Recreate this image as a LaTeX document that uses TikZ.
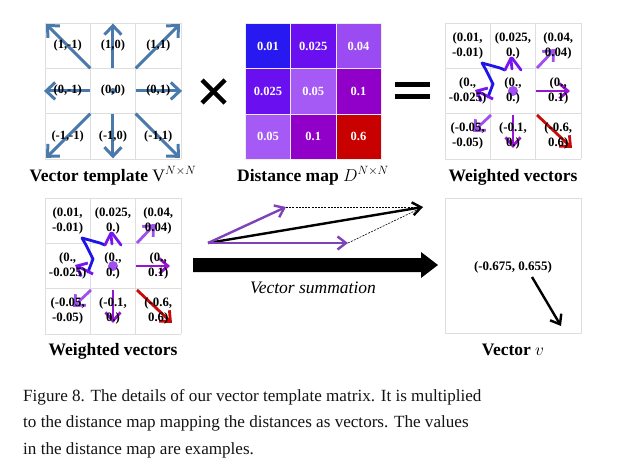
\documentclass[tikz,border=0pt]{standalone}
\usepackage{fontspec}
\setmainfont{Liberation Serif}
\usetikzlibrary{arrows.meta}
\definecolor{tblue}{RGB}{74,122,171}
\definecolor{dcA}{RGB}{40,25,240}
\definecolor{dcB}{RGB}{105,15,240}
\definecolor{dcC}{RGB}{155,75,242}
\definecolor{dcD}{RGB}{165,90,245}
\definecolor{dcE}{RGB}{145,0,200}
\definecolor{dcF}{RGB}{200,0,0}
\definecolor{wblue}{RGB}{30,20,230}
\definecolor{wviolet}{RGB}{120,20,240}
\definecolor{wlight}{RGB}{160,80,240}
\definecolor{wpurple}{RGB}{150,20,210}
\definecolor{wred}{RGB}{200,10,10}
\definecolor{sumv}{RGB}{125,65,185}
\definecolor{gridc}{RGB}{222,222,222}
\definecolor{captc}{RGB}{20,20,20}
\tikzset{
  gridline/.style={draw=gridc, line width=0.7pt},
  tlab/.style={font=\bfseries\fontsize{12.5}{14}\selectfont, inner sep=0pt},
  wlab/.style={font=\bfseries\fontsize{12.8}{15}\selectfont, inner sep=0pt, align=center},
  dlab/.style={font=\bfseries\fontsize{12.5}{14}\selectfont, text=white},
  dcell/.style={draw=white!85!gray, line width=0.6pt, minimum size=45.3pt, anchor=north west, inner sep=0pt},
  title/.style={font=\bfseries\fontsize{17.5}{20}\selectfont, anchor=base, inner sep=0pt},
  tarrow/.style={draw=tblue, line width=3pt, -{Straight Barb[length=9pt,width=17pt]}},
  warrow/.style={line width=2.8pt, -{Straight Barb[length=8.5pt,width=15pt]}},
  wline/.style={line width=2.8pt, line join=round, line cap=round},
  sarrow/.style={line width=2.4pt, -{Straight Barb[length=8.5pt,width=13pt]}},
  guide/.style={draw=black, line width=0.6pt, dash pattern=on 2pt off 1.2pt},
  capt/.style={font=\fontsize{17.1}{20}\selectfont, anchor=base west, inner sep=0pt, text=captc},
}
\newcommand\wgrid[1]{%
  \foreach \i in {0,1,2,3} {
    \draw[gridline] (\i*45.3,0) -- (\i*45.3,135.9);
    \draw[gridline] (0,\i*45.3) -- (135.9,\i*45.3);
  }
  \draw[wline, draw=wblue] (43,74) -- (48,61) -- (41,47) -- (37,40) -- (55,45) -- (60,47);
  \draw[wline, draw=wviolet] (60,47) -- (66,35);
  \draw[wline, draw=wviolet] (76,47) -- (67,35);
  \draw[wline, draw=wviolet] (67,46) -- (66,37);
  \draw[warrow, draw=wlight] (92,45) -- (110,26);
  \draw[warrow, draw=wviolet] (48,76) -- (30,67);
  \draw[warrow, draw=wpurple] (91,68) -- (125,68);
  \fill[wlight] (68,68) circle (5pt);
  \draw[warrow, draw=wlight] (46,92) -- (28,109);
  \draw[warrow, draw=wpurple] (68,92) -- (68,125);
  \draw[warrow, draw=wred] (92,92) -- (127,125);
  \node[wlab] (#1a) at (22.65,22.65) {(0.01,\\-0.01)};
  \node[wlab] (#1b) at (67.95,22.65) {(0.025,\\0.)};
  \node[wlab] (#1c) at (113.25,22.65) {(0.04,\\0.04)};
  \node[wlab] (#1d) at (22.65,67.95) {(0.,\\-0.025)};
  \node[wlab] (#1e) at (67.95,67.95) {(0.,\\0.)};
  \node[wlab] (#1f) at (113.25,67.95) {(0.,\\0.1)};
  \node[wlab] (#1g) at (22.65,113.25) {(-0.05,\\-0.05)};
  \node[wlab] (#1h) at (67.95,113.25) {(-0.1,\\0.)};
  \node[wlab] (#1i) at (113.25,113.25) {(-0.6,\\0.6)};
}
\begin{document}
\begin{tikzpicture}[x=1pt,y=-1pt]
\useasboundingbox (0,0) rectangle (629,468);
\fill[white] (0,0) rectangle (629,468);

% ---------- Vector template ----------
\begin{scope}[shift={(45,23)}]
  \foreach \i in {0,1,2,3} {
    \draw[gridline] (\i*45.3,0) -- (\i*45.3,135.9);
    \draw[gridline] (0,\i*45.3) -- (135.9,\i*45.3);
  }
  \draw[tarrow] (45.3,45.3) -- (1,1);
  \draw[tarrow] (67.95,45.3) -- (67.95,0.5);
  \draw[tarrow] (90.6,45.3) -- (135,1);
  \draw[tarrow] (45.3,67.95) -- (-1,67.95);
  \draw[tarrow] (90.6,67.95) -- (137,67.95);
  \draw[tarrow] (45.3,90.6) -- (1,134.9);
  \draw[tarrow] (67.95,90.6) -- (67.95,135.4);
  \draw[tarrow] (90.6,90.6) -- (135,134.9);
  \fill[tblue] (67.95,67.95) circle (3pt);
  \node[tlab] (t11) at (22.65,22.65) {(1,-1)};
  \node[tlab] (t12) at (67.95,22.65) {(1,0)};
  \node[tlab] (t13) at (113.25,22.65) {(1,1)};
  \node[tlab] (t21) at (22.65,67.95) {(0,-1)};
  \node[tlab] (t22) at (67.95,67.95) {(0,0)};
  \node[tlab] (t23) at (113.25,67.95) {(0,1)};
  \node[tlab] (t31) at (22.65,113.25) {(-1,-1)};
  \node[tlab] (t32) at (67.95,113.25) {(-1,0)};
  \node[tlab] (t33) at (113.25,113.25) {(-1,1)};
\end{scope}
\node[title] (ttitle) at (113,181) {Vector template $\mathrm{V}^{N\times N}$};

% times sign
\draw[line width=4.5pt] (202,80) -- (225,103);
\draw[line width=4.5pt] (225,80) -- (202,103);

% ---------- Distance map ----------
\node[dcell, fill=dcA] (d11) at (245,23) {};
\node[dcell, fill=dcB] (d12) at (290.3,23) {};
\node[dcell, fill=dcC] (d13) at (335.6,23) {};
\node[dcell, fill=dcB] (d21) at (245,68.3) {};
\node[dcell, fill=dcD] (d22) at (290.3,68.3) {};
\node[dcell, fill=dcE] (d23) at (335.6,68.3) {};
\node[dcell, fill=dcD] (d31) at (245,113.6) {};
\node[dcell, fill=dcE] (d32) at (290.3,113.6) {};
\node[dcell, fill=dcF] (d33) at (335.6,113.6) {};
\node[dlab] at (d11.center) {0.01};
\node[dlab] at (d12.center) {0.025};
\node[dlab] at (d13.center) {0.04};
\node[dlab] at (d21.center) {0.025};
\node[dlab] at (d22.center) {0.05};
\node[dlab] at (d23.center) {0.1};
\node[dlab] at (d31.center) {0.05};
\node[dlab] at (d32.center) {0.1};
\node[dlab] at (d33.center) {0.6};
\node[title] (dtitle) at (313,181) {Distance map $D^{N\times N}$};

% equals sign
\fill (395,82.5) rectangle (430,87.5);
\fill (395,94.5) rectangle (430,99.5);

% ---------- Weighted vectors (top) ----------
\begin{scope}[shift={(445,23)}]
  \wgrid{wa}
\end{scope}
\node[title] (watitle) at (513,181) {Weighted vectors};

% ---------- Weighted vectors (bottom) ----------
\begin{scope}[shift={(45,198)}]
  \wgrid{wb}
\end{scope}
\node[title] (wbtitle) at (113,355) {Weighted vectors};

% ---------- Vector summation ----------
\coordinate (so) at (208,243);
\coordinate (sa) at (286,207);
\coordinate (sb) at (348,243);
\coordinate (ss) at (423,207);
\draw[guide] (sa) -- (ss);
\draw[guide] (sb) -- (ss);
\draw[sarrow, draw=black] (so) -- (ss);
\draw[sarrow, draw=sumv] (so) -- (sa);
\draw[sarrow, draw=sumv] (so) -- (sb);
\fill (193,258) -- (421,258) -- (421,252) -- (438,265) -- (421,278) -- (421,272) -- (193,272) -- cycle;
\node[font=\itshape\fontsize{17.5}{19}\selectfont, anchor=base] (vsum) at (313,293) {Vector summation};

% ---------- Vector v ----------
\node[draw=gridc, line width=0.8pt, minimum width=136pt, minimum height=135pt, anchor=north west, inner sep=0pt] (vbox) at (445,198) {};
\node[font=\bfseries\fontsize{13}{15}\selectfont, inner sep=0pt] (vlab) at (513,267) {(-0.675, 0.655)};
\coordinate (vs) at (532,277);
\coordinate (ve) at (561,326);
\draw[sarrow, draw=black] (vs) -- (ve);
\node[title] (vtitle) at (513,355) {Vector $v$};

% ---------- Caption ----------
\node[capt] (cap1) at (23,401) {Figure 8. The details of our vector template matrix. It is multiplied};
\node[capt] (cap2) at (23,427.5) {to the distance map mapping the distances as vectors. The values};
\node[capt] (cap3) at (23,454) {in the distance map are examples.};
\end{tikzpicture}
\end{document}
